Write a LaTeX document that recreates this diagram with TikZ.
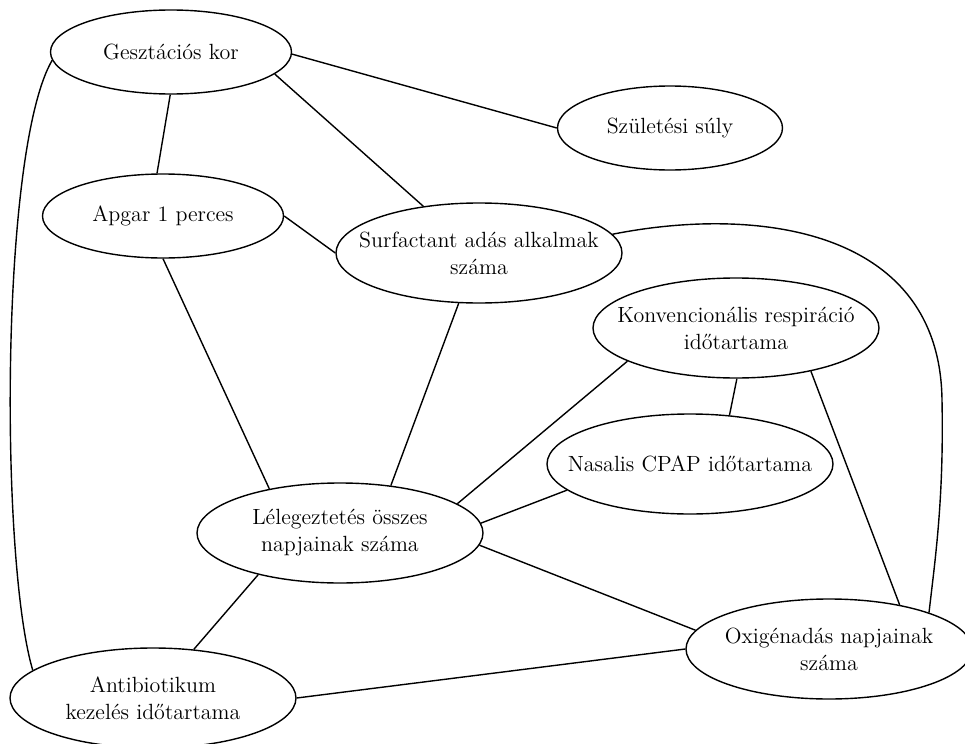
\documentclass[tikz,border=0pt]{standalone}
\usepackage{fontspec}
\usetikzlibrary{shapes.geometric}

\begin{document}
\begin{tikzpicture}[x=0.5pt,y=-0.5pt,
  every path/.style={line width=0.7pt},
  var/.style={draw,ellipse,inner sep=-60pt,align=center,font=\fontsize{11}{13.5}\selectfont},
  small/.style={minimum width=120.5pt,minimum height=42pt},
  big/.style={minimum width=143pt,minimum height=50pt}]
\useasboundingbox (0,0) rectangle (965,744);
% variables
\node[var,small] (gest) at (171,52) {Gesztációs kor};
\node[var,small,minimum width=112.5pt] (szul) at (670,128) {Születési súly};
\node[var,small] (apgar) at (163,216) {Apgar 1 perces};
\node[var,big] (surf) at (479,253) {Surfactant adás alkalmak\\száma};
\node[var,big] (konv) at (736,328) {Konvencionális respiráció\\időtartama};
\node[var,big] (nasal) at (690,464) {Nasalis CPAP időtartama};
\node[var,big] (lel) at (340,533) {Lélegeztetés összes\\napjainak száma};
\node[var,big] (oxig) at (829,649) {Oxigénadás napjainak\\száma};
\node[var,big] (anti) at (153,698) {Antibiotikum\\kezelés időtartama};
\coordinate (bend) at (942,400);
% links
\draw (gest.-1) -- (szul.180);
\draw (gest.-12) -- (surf.140);
\draw (gest.-91) -- (apgar.98);
\draw (gest.184) .. controls (0,150) and (0,560) .. (anti.167);
\draw (apgar.0) -- (surf.180);
\draw (apgar.-90) -- (lel.148);
\draw (surf.-112) -- (lel.43);
\draw (surf.8) .. controls (760,205) and (940,230) .. (bend)
  .. controls (944,500) and (935,560) .. (oxig.20);
\draw (konv.-89) -- (nasal.51);
\draw (konv.197) -- (lel.14);
\draw (konv.-30) -- (oxig.32);
\draw (nasal.192) -- (lel.4);
\draw (lel.-5) -- (oxig.172);
\draw (lel.207) -- (anti.50);
\draw (anti.0) -- (oxig.180);
\end{tikzpicture}
\end{document}
